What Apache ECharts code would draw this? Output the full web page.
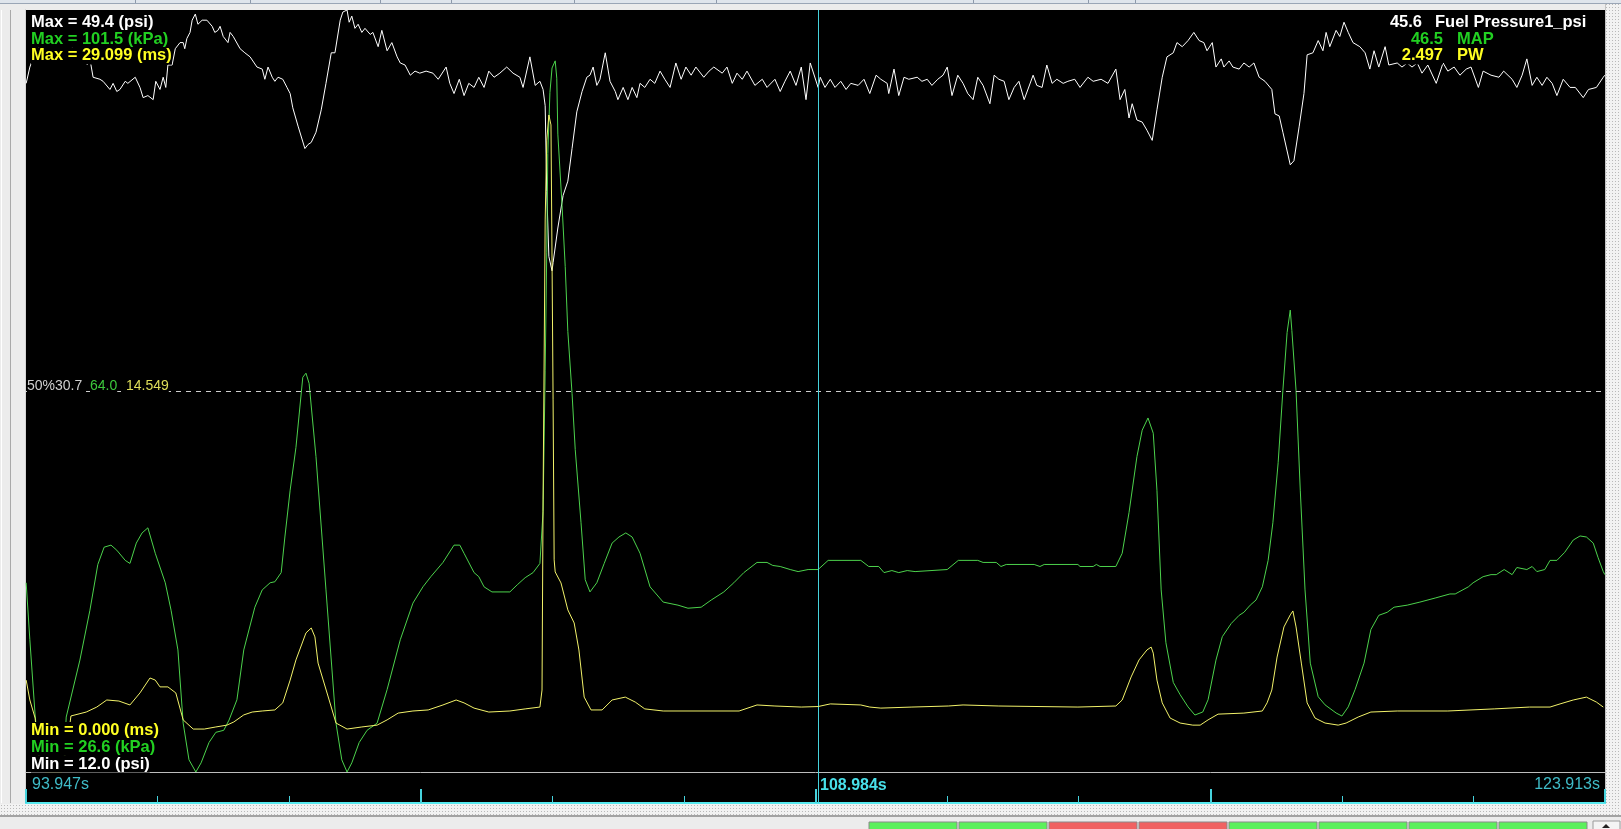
<!DOCTYPE html>
<html>
<head>
<meta charset="utf-8">
<title>Fuel Pressure / MAP / PW log</title>
<script src="https://cdn.jsdelivr.net/npm/echarts@6.0.0/dist/echarts.min.js"></script>
<style>
html, body { margin: 0; padding: 0; background: #ececec; }
#log-chart { width: 1621px; height: 829px; }
</style>
</head>
<body>
<div id="log-chart"></div>
<script>
var timeRange = [93.947, 123.913];
var cursorTime = 108.984;
var timeLabels = ['93.947s', '108.984s', '123.913s'];

var channelNames = ['Fuel Pressure1_psi', 'MAP', 'PW'];
var channelUnits = ['psi', 'kPa', 'ms'];
var channelMin = [12.0, 26.6, 0.000];
var channelMax = [49.4, 101.5, 29.099];
var channelDigits = [1, 1, 3];
var cursorValues = ['45.6', '46.5', '2.497'];
var midValues = ['30.7', '64.0', '14.549'];

// [time s, psi]
var fuelPressure = [[93.95,45.8],[94.02,46.6],[94.12,47.3],[94.25,47.8],[94.40,48.0],[94.55,47.7],[94.71,47.9],[94.88,47.4],[95.03,47.1],[95.11,46.7],[95.16,47.0],[95.22,46.1],[95.35,46.0],[95.41,45.9],[95.54,45.5],[95.60,45.8],[95.67,45.4],[95.73,45.5],[95.83,45.9],[95.88,45.8],[96.02,46.1],[96.11,45.6],[96.17,45.1],[96.26,45.2],[96.36,45.0],[96.41,45.9],[96.49,45.5],[96.55,46.1],[96.60,45.6],[96.64,46.7],[96.72,46.7],[96.78,47.5],[96.87,47.8],[96.93,47.8],[96.96,47.5],[97.00,48.0],[97.06,48.3],[97.10,48.9],[97.16,49.2],[97.21,48.7],[97.29,48.9],[97.38,48.9],[97.48,48.6],[97.53,48.3],[97.59,48.4],[97.63,48.6],[97.69,48.1],[97.78,47.8],[97.82,48.3],[97.88,48.1],[98.01,47.5],[98.10,47.3],[98.20,47.1],[98.33,46.6],[98.43,46.5],[98.48,46.0],[98.54,46.6],[98.62,46.1],[98.67,45.9],[98.73,46.1],[98.82,46.0],[98.90,45.6],[98.96,45.3],[99.01,44.6],[99.11,43.7],[99.24,42.6],[99.30,42.8],[99.36,42.9],[99.45,43.4],[99.55,44.5],[99.64,45.8],[99.74,47.3],[99.81,47.3],[99.91,48.9],[99.96,49.3],[100.04,49.4],[100.08,48.8],[100.13,49.1],[100.19,48.5],[100.25,48.7],[100.32,48.3],[100.38,48.5],[100.48,48.2],[100.53,48.3],[100.63,47.6],[100.70,48.4],[100.80,47.4],[100.89,47.8],[100.99,47.1],[101.05,46.8],[101.14,46.7],[101.24,46.2],[101.33,46.4],[101.42,46.3],[101.54,46.4],[101.67,46.3],[101.77,46.0],[101.92,46.6],[101.99,45.8],[102.07,45.3],[102.17,46.0],[102.26,45.2],[102.35,45.8],[102.45,45.6],[102.54,46.1],[102.64,45.6],[102.73,46.4],[102.83,46.1],[102.94,46.3],[103.07,46.6],[103.19,46.3],[103.32,46.1],[103.38,45.6],[103.51,47.1],[103.61,45.7],[103.70,45.9],[103.76,45.5],[103.80,44.7],[103.83,40.5],[103.87,37.3],[103.93,36.6],[103.95,37.0],[104.04,38.7],[104.14,40.3],[104.23,41.0],[104.31,42.6],[104.40,44.4],[104.50,45.4],[104.59,46.1],[104.65,46.2],[104.71,46.6],[104.78,45.7],[104.84,46.0],[104.94,47.3],[105.03,45.9],[105.13,45.4],[105.18,45.0],[105.28,45.6],[105.37,45.0],[105.45,45.6],[105.54,45.1],[105.60,45.8],[105.69,45.6],[105.79,46.0],[105.88,45.8],[105.98,46.4],[106.07,46.0],[106.17,45.6],[106.28,46.8],[106.38,46.0],[106.47,46.6],[106.57,46.2],[106.66,46.6],[106.81,46.1],[106.91,46.4],[107.00,46.6],[107.16,46.3],[107.25,46.6],[107.35,45.8],[107.44,46.3],[107.54,46.0],[107.63,46.4],[107.78,45.7],[107.92,46.0],[108.01,45.6],[108.16,46.0],[108.26,45.4],[108.35,45.9],[108.45,46.4],[108.56,45.7],[108.66,46.6],[108.75,45.0],[108.83,46.8],[108.98,45.6],[109.02,46.1],[109.11,45.6],[109.21,46.0],[109.30,45.6],[109.41,45.9],[109.51,45.5],[109.60,45.8],[109.74,45.7],[109.85,46.0],[109.96,45.3],[110.08,46.2],[110.17,46.0],[110.29,45.8],[110.32,45.3],[110.42,46.5],[110.51,45.2],[110.61,46.1],[110.70,46.0],[110.86,46.1],[110.95,45.9],[111.05,46.0],[111.14,45.7],[111.25,46.0],[111.35,46.2],[111.43,46.6],[111.52,45.2],[111.63,46.2],[111.73,45.8],[111.82,45.3],[111.92,45.0],[112.01,46.1],[112.11,45.7],[112.24,44.8],[112.32,46.2],[112.41,46.0],[112.51,45.9],[112.60,45.0],[112.70,45.6],[112.79,45.9],[112.89,45.0],[113.06,46.2],[113.13,45.7],[113.23,45.6],[113.32,46.7],[113.42,45.8],[113.51,46.0],[113.63,45.8],[113.72,45.9],[113.85,46.0],[113.95,45.6],[114.10,46.1],[114.20,45.9],[114.35,46.0],[114.48,45.8],[114.63,46.5],[114.71,45.0],[114.80,45.5],[114.88,44.1],[114.94,44.8],[115.03,44.0],[115.13,43.9],[115.22,43.5],[115.32,43.0],[115.41,44.5],[115.51,46.1],[115.60,47.1],[115.72,47.3],[115.79,47.8],[115.89,47.6],[116.00,47.9],[116.11,48.3],[116.21,47.9],[116.30,47.8],[116.36,47.4],[116.46,47.8],[116.53,46.6],[116.63,47.0],[116.68,46.6],[116.78,46.9],[116.85,46.6],[116.97,46.5],[117.06,46.8],[117.16,46.6],[117.25,46.8],[117.35,46.1],[117.46,45.9],[117.59,45.5],[117.65,44.3],[117.73,44.2],[117.80,43.4],[117.94,41.8],[118.01,42.0],[118.11,43.7],[118.20,45.3],[118.26,47.2],[118.37,47.3],[118.47,47.9],[118.56,47.4],[118.62,48.3],[118.69,47.6],[118.81,48.4],[118.88,48.1],[118.96,48.8],[119.04,48.3],[119.13,47.8],[119.26,47.6],[119.36,47.3],[119.45,46.5],[119.53,47.4],[119.62,46.6],[119.74,47.6],[119.81,46.7],[119.97,46.8],[120.06,46.6],[120.16,46.8],[120.25,46.6],[120.35,46.8],[120.44,46.3],[120.55,46.7],[120.71,45.8],[120.84,46.8],[120.93,46.4],[121.05,46.6],[121.16,46.2],[121.28,46.5],[121.37,46.6],[121.51,45.6],[121.60,46.4],[121.75,46.2],[121.90,46.1],[121.99,46.4],[122.15,46.0],[122.24,45.6],[122.34,46.2],[122.43,47.0],[122.53,45.7],[122.62,46.1],[122.72,45.7],[122.81,46.1],[122.91,45.8],[123.00,45.2],[123.12,46.0],[123.25,45.6],[123.35,45.6],[123.50,45.1],[123.60,45.5],[123.75,45.6],[123.88,46.1],[123.91,46.2]];

// [time s, kPa]
var mapKpa = [[93.95,45.2],[94.02,39.6],[94.12,32.2],[94.21,27.3],[94.37,27.0],[94.55,27.0],[94.67,27.8],[94.71,32.0],[94.97,37.6],[95.16,42.5],[95.31,47.0],[95.43,48.7],[95.56,48.9],[95.67,48.4],[95.83,47.4],[95.92,47.1],[96.04,49.1],[96.15,50.1],[96.26,50.6],[96.40,48.1],[96.59,45.2],[96.70,42.5],[96.83,38.6],[96.93,31.4],[97.04,27.8],[97.17,26.6],[97.27,27.5],[97.42,29.5],[97.55,30.5],[97.70,30.7],[97.80,31.7],[97.95,33.7],[98.08,38.6],[98.29,42.8],[98.43,44.5],[98.58,45.2],[98.67,45.3],[98.79,46.2],[98.86,49.7],[98.96,54.3],[99.07,58.5],[99.20,65.4],[99.26,65.8],[99.32,64.8],[99.45,57.6],[99.64,44.5],[99.83,31.4],[99.94,27.8],[100.04,26.6],[100.13,27.5],[100.27,29.5],[100.42,30.7],[100.61,31.4],[100.80,34.7],[101.05,39.6],[101.29,43.2],[101.48,44.8],[101.63,45.8],[101.86,47.2],[102.07,48.9],[102.18,48.9],[102.26,48.1],[102.45,46.2],[102.54,45.8],[102.64,44.8],[102.79,44.3],[103.13,44.3],[103.27,45.0],[103.42,45.7],[103.57,46.2],[103.70,47.1],[103.76,52.2],[103.80,66.1],[103.83,77.7],[103.85,87.4],[103.89,93.4],[103.93,95.8],[103.99,96.5],[104.02,94.8],[104.04,89.3],[104.12,82.3],[104.18,76.3],[104.23,69.9],[104.31,63.8],[104.37,58.3],[104.48,51.1],[104.56,45.5],[104.65,44.3],[104.78,45.2],[104.92,47.1],[105.07,49.1],[105.20,49.7],[105.33,50.1],[105.45,49.7],[105.60,48.1],[105.79,44.8],[106.04,43.3],[106.32,43.0],[106.51,42.7],[106.76,42.8],[106.95,43.5],[107.19,44.3],[107.38,45.2],[107.57,46.2],[107.82,47.2],[108.01,47.2],[108.12,46.9],[108.26,46.8],[108.45,46.5],[108.60,46.3],[108.79,46.5],[108.98,46.5],[109.17,47.4],[109.79,47.4],[109.94,46.8],[110.13,46.8],[110.23,46.2],[110.38,46.4],[110.51,46.2],[110.67,46.4],[110.82,46.3],[111.43,46.5],[111.64,47.4],[112.01,47.4],[112.11,47.2],[112.36,47.2],[112.45,46.8],[112.55,47.0],[113.08,47.0],[113.19,46.8],[113.27,47.0],[113.91,47.0],[113.95,46.8],[114.20,46.8],[114.26,47.0],[114.33,46.8],[114.63,46.8],[114.75,48.1],[114.88,52.1],[115.03,57.6],[115.13,60.2],[115.24,61.4],[115.34,59.9],[115.41,54.3],[115.49,44.5],[115.58,39.3],[115.72,35.4],[115.85,34.2],[116.00,33.0],[116.13,32.2],[116.28,32.5],[116.38,33.7],[116.53,37.6],[116.65,39.9],[116.82,41.2],[116.97,42.0],[117.06,42.3],[117.18,43.0],[117.29,43.5],[117.41,44.8],[117.52,47.4],[117.61,51.1],[117.71,57.0],[117.80,64.1],[117.88,69.8],[117.94,72.0],[117.97,70.0],[118.05,64.1],[118.13,54.3],[118.22,44.5],[118.32,37.3],[118.47,34.0],[118.60,33.2],[118.81,32.4],[118.92,32.1],[119.04,33.0],[119.17,34.7],[119.34,37.3],[119.47,40.6],[119.62,42.0],[119.78,42.3],[119.91,42.8],[120.16,43.0],[120.40,43.3],[120.69,43.7],[120.97,44.1],[121.07,44.1],[121.32,44.8],[121.41,45.2],[121.60,45.8],[121.75,46.0],[121.85,46.0],[122.00,46.5],[122.15,46.0],[122.24,46.7],[122.43,46.5],[122.53,46.8],[122.62,46.3],[122.77,46.5],[122.87,47.4],[123.00,47.4],[123.15,48.2],[123.31,49.4],[123.44,49.8],[123.56,49.7],[123.69,49.1],[123.78,47.7],[123.88,46.3],[123.91,46.0]];

// [time s, ms]
var pulseWidth = [[93.95,3.51],[94.02,2.75],[94.12,2.06],[94.21,0.27],[94.31,0],[94.63,0],[94.74,1.22],[94.80,2.14],[95.09,2.29],[95.29,2.48],[95.48,2.75],[95.71,2.71],[95.92,2.56],[96.11,3.02],[96.30,3.59],[96.40,3.51],[96.49,3.25],[96.64,3.25],[96.79,3.02],[96.93,1.99],[97.12,1.64],[97.33,1.64],[97.55,1.72],[97.76,1.79],[97.89,1.91],[98.08,2.18],[98.24,2.29],[98.43,2.33],[98.67,2.37],[98.82,2.64],[98.96,3.51],[99.07,4.28],[99.26,5.31],[99.36,5.50],[99.43,5.16],[99.49,4.16],[99.70,2.75],[99.83,1.87],[100.04,1.64],[100.32,1.72],[100.61,1.79],[100.80,1.99],[101.01,2.25],[101.29,2.33],[101.58,2.37],[101.86,2.56],[102.11,2.75],[102.26,2.64],[102.45,2.44],[102.73,2.29],[103.13,2.33],[103.42,2.41],[103.70,2.48],[103.74,3.13],[103.76,10.39],[103.80,21.08],[103.83,24.13],[103.87,25.09],[103.91,24.71],[103.93,19.55],[103.95,14.21],[103.97,8.10],[103.99,7.64],[104.10,7.22],[104.23,6.19],[104.35,5.69],[104.44,4.66],[104.54,2.86],[104.67,2.37],[104.88,2.37],[105.07,2.75],[105.32,2.86],[105.51,2.67],[105.69,2.41],[106.04,2.33],[107.48,2.33],[107.82,2.56],[108.16,2.52],[108.66,2.48],[108.98,2.50],[109.21,2.60],[109.79,2.56],[109.96,2.48],[110.17,2.44],[110.76,2.48],[111.45,2.52],[111.73,2.56],[112.41,2.52],[113.91,2.48],[114.63,2.52],[114.75,2.75],[114.92,3.63],[115.07,4.28],[115.22,4.66],[115.30,4.77],[115.34,4.54],[115.41,3.51],[115.51,2.64],[115.66,2.06],[115.85,1.87],[116.09,1.79],[116.23,1.79],[116.38,1.99],[116.57,2.21],[117.06,2.25],[117.41,2.33],[117.50,2.64],[117.59,3.13],[117.69,4.39],[117.82,5.54],[117.94,6.00],[117.99,6.15],[118.05,5.54],[118.15,4.16],[118.26,2.64],[118.41,2.06],[118.60,1.87],[118.85,1.79],[119.00,1.87],[119.23,2.10],[119.47,2.29],[119.97,2.33],[120.93,2.33],[121.81,2.41],[122.48,2.48],[122.87,2.48],[123.06,2.60],[123.31,2.75],[123.56,2.86],[123.75,2.67],[123.88,2.48]];

var traceColors = ['#ffffff', '#4cd24c', '#f2f26a'];
var textColors = ['#ffffff', '#22d022', '#ffff22'];
var cyan = '#46d2dc';

var logChart = echarts.init(document.getElementById('log-chart'));

function dotPattern() {
    var c = document.createElement('canvas');
    c.width = 3;
    c.height = 3;
    var ctx = c.getContext('2d');
    ctx.fillStyle = '#f2f2f2';
    ctx.fillRect(0, 0, 3, 3);
    ctx.fillStyle = '#b9b9b9';
    ctx.fillRect(1, 1, 1, 1);
    return { image: c, repeat: 'repeat' };
}

function label(text, x, y, color, font, align) {
    return {
        type: 'text',
        x: x,
        y: y,
        z: 100,
        silent: true,
        style: {
            text: text,
            fill: color,
            font: font,
            textAlign: align || 'left',
            textVerticalAlign: 'middle',
            backgroundColor: '#000'
        }
    };
}

function buildGraphics() {
    var bold = 'bold 16.5px "Liberation Sans", Arial, sans-serif';
    var plain = '16px "Liberation Sans", Arial, sans-serif';
    var boldTime = 'bold 16px "Liberation Sans", Arial, sans-serif';
    var small = '14px "Liberation Sans", Arial, sans-serif';
    var dots = dotPattern();
    var g = [];

    // window chrome round the plot
    g.push({ type: 'rect', shape: { x: 0, y: 0, width: 1621, height: 3 }, style: { fill: '#dfe5ec' } });
    g.push({ type: 'rect', shape: { x: 0, y: 3, width: 1621, height: 1 }, style: { fill: '#9aa6b6' } });
    [135, 250, 380, 451, 574, 716, 973, 1088, 1135].forEach(function (sx) {
        g.push({ type: 'rect', shape: { x: sx, y: 0, width: 1, height: 3 }, style: { fill: '#8d99aa' } });
    });
    g.push({ type: 'rect', shape: { x: 1, y: 10, width: 1, height: 793 }, style: { fill: '#ffffff' } });
    g.push({ type: 'rect', shape: { x: 10, y: 10, width: 1, height: 793 }, style: { fill: '#a9a9a9' } });
    g.push({ type: 'rect', shape: { x: 25, y: 9, width: 1, height: 795 }, style: { fill: '#d6d6d6' } });
    g.push({ type: 'rect', shape: { x: 1605, y: 4, width: 16, height: 800 }, style: { fill: dots } });
    g.push({ type: 'rect', shape: { x: 1605, y: 4, width: 1, height: 800 }, style: { fill: '#c4c4c4' } });
    g.push({ type: 'rect', shape: { x: 0, y: 804, width: 1621, height: 11 }, style: { fill: dots } });
    g.push({ type: 'rect', shape: { x: 0, y: 815, width: 1621, height: 2 }, style: { fill: '#a3a3a3' } });

    // status buttons
    var buttons = [[869, '#5cf05c'], [959, '#5cf05c'], [1049, '#f06262'], [1139, '#f06262'],
                   [1229, '#5cf05c'], [1319, '#5cf05c'], [1409, '#5cf05c'], [1499, '#5cf05c']];
    buttons.forEach(function (b) {
        g.push({ type: 'rect', shape: { x: b[0], y: 822, width: 88, height: 10 },
                 style: { fill: b[1], stroke: '#8a8a8a', lineWidth: 1 } });
    });
    g.push({ type: 'rect', shape: { x: 1593, y: 821, width: 27, height: 10 }, style: { fill: '#f4f4f4', stroke: '#9a9a9a' } });
    g.push({ type: 'polygon', shape: { points: [[1602, 828], [1606, 824], [1610, 828]] }, style: { fill: '#222' } });

    // scale limits, top and bottom
    for (var i = 0; i < 3; i++) {
        g.push(label('Max = ' + channelMax[i].toFixed(channelDigits[i]) + ' (' + channelUnits[i] + ')',
                     31, 22.5 + i * 16.7, textColors[i], bold));
        g.push(label('Min = ' + channelMin[i].toFixed(channelDigits[i]) + ' (' + channelUnits[i] + ')',
                     31, 764 - i * 16.8, textColors[i], bold));
    }

    // cursor readout, top right
    var valueRight = [1422, 1443, 1443];
    for (var j = 0; j < 3; j++) {
        g.push(label(cursorValues[j], valueRight[j], 22.5 + j * 16.7, textColors[j], bold, 'right'));
        g.push(label(channelNames[j], j === 0 ? 1435 : 1457, 22.5 + j * 16.7, textColors[j], bold));
    }

    // 50% line readout
    g.push(label('50%' + midValues[0], 27, 386, '#cfcfcf', small));
    g.push(label(midValues[1], 90, 386, '#3cc83c', small));
    g.push(label(midValues[2], 126, 386, '#dede5a', small));

    // time labels
    g.push(label(timeLabels[0], 32, 785, '#3fbcc8', plain));
    g.push(label(timeLabels[1], 820, 786, '#48e0ea', boldTime));
    g.push(label(timeLabels[2], 1600, 785, '#3fbcc8', plain, 'right'));
    return g;
}

function traceSeries(name, idx, data, extra) {
    var s = {
        name: name,
        type: 'line',
        xAxisIndex: 0,
        yAxisIndex: idx,
        data: data,
        symbol: 'none',
        showSymbol: false,
        silent: true,
        clip: true,
        lineStyle: { color: traceColors[idx], width: 1 },
        z: 3 + idx
    };
    if (extra) {
        s.markLine = extra;
    }
    return s;
}

logChart.setOption({
    animation: false,
    backgroundColor: '#ececec',
    grid: [
        { left: 26, top: 10, width: 1579, height: 762, show: true, backgroundColor: '#000', borderWidth: 0 },
        { left: 26, top: 772, width: 1579, height: 31, show: true, backgroundColor: '#000', borderWidth: 0 }
    ],
    xAxis: [
        {
            gridIndex: 0, type: 'value', position: 'bottom', min: timeRange[0], max: timeRange[1],
            axisLine: { show: true, onZero: false, lineStyle: { color: '#bdbdbd', width: 1 } },
            axisTick: { show: false }, axisLabel: { show: false }, splitLine: { show: false }
        },
        {
            gridIndex: 1, type: 'value', position: 'bottom', offset: 0, min: 0, max: 12, interval: 1,
            axisLine: { show: true, onZero: false, lineStyle: { color: '#56e8ee', width: 2 } },
            axisTick: { show: true, inside: true, length: 7, lineStyle: { color: cyan, width: 1 } },
            axisLabel: { show: false }, splitLine: { show: false }
        },
        {
            gridIndex: 1, type: 'value', position: 'bottom', offset: 0, min: 0, max: 12, interval: 3,
            axisLine: { show: true, onZero: false, lineStyle: { color: '#56e8ee', width: 2 } },
            axisTick: { show: true, inside: true, length: 14, lineStyle: { color: cyan, width: 2 } },
            axisLabel: { show: false }, splitLine: { show: false }
        },
        { gridIndex: 1, type: 'value', position: 'top', min: timeRange[0], max: timeRange[1], show: false }
    ],
    yAxis: [
        { gridIndex: 0, type: 'value', min: channelMin[0], max: channelMax[0], show: false },
        { gridIndex: 0, type: 'value', min: channelMin[1], max: channelMax[1], show: false },
        { gridIndex: 0, type: 'value', min: channelMin[2], max: channelMax[2], show: false },
        { gridIndex: 1, type: 'value', min: 0, max: 1, show: false }
    ],
    graphic: buildGraphics(),
    series: [
        traceSeries(channelNames[0], 0, fuelPressure, {
            silent: true,
            symbol: ['none', 'none'],
            label: { show: false },
            data: [
                { yAxis: (channelMin[0] + channelMax[0]) / 2, lineStyle: { color: '#cfcfcf', type: [5, 5], width: 1 } },
                { xAxis: cursorTime, lineStyle: { color: cyan, type: 'solid', width: 1 } }
            ]
        }),
        traceSeries(channelNames[1], 1, mapKpa),
        traceSeries(channelNames[2], 2, pulseWidth),
        {
            type: 'line',
            xAxisIndex: 3,
            yAxisIndex: 3,
            data: [[cursorTime, 0.5]],
            symbol: 'none',
            lineStyle: { opacity: 0 },
            markLine: {
                silent: true,
                symbol: ['none', 'none'],
                label: { show: false },
                data: [{ xAxis: cursorTime, lineStyle: { color: cyan, type: 'solid', width: 1 } }]
            }
        }
    ]
});
</script>
</body>
</html>
